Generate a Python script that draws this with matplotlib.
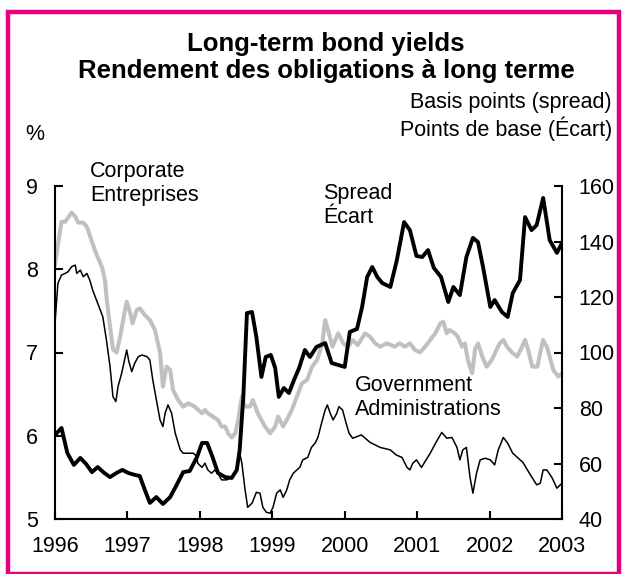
import matplotlib
matplotlib.use('Agg')
import matplotlib.pyplot as plt
from matplotlib.patches import Rectangle

plt.rcParams['font.family'] = ['Liberation Sans', 'DejaVu Sans']

# ---------------- data ----------------
corp_years = [
    1996.00, 1996.04, 1996.09, 1996.14, 1996.18, 1996.23, 1996.28, 1996.32, 1996.39, 1996.44,
    1996.48, 1996.55, 1996.65, 1996.69, 1996.71, 1996.76, 1996.80, 1996.85, 1996.90, 1996.94,
    1996.99, 1997.04, 1997.07, 1997.13, 1997.17, 1997.24, 1997.31, 1997.38, 1997.45, 1997.49,
    1997.54, 1997.59, 1997.63, 1997.70, 1997.77, 1997.84, 1997.93, 1998.03, 1998.07, 1998.11,
    1998.18, 1998.25, 1998.30, 1998.35, 1998.39, 1998.44, 1998.49, 1998.53, 1998.58, 1998.62,
    1998.69, 1998.73, 1998.80, 1998.90, 1998.97, 1999.04, 1999.08, 1999.15, 1999.20, 1999.27,
    1999.34, 1999.41, 1999.48, 1999.55, 1999.62, 1999.69, 1999.73, 1999.77, 1999.83, 1999.87,
    1999.91, 1999.98, 2000.05, 2000.11, 2000.18, 2000.28, 2000.35, 2000.42, 2000.49, 2000.58,
    2000.69, 2000.76, 2000.83, 2000.90, 2000.97, 2001.04, 2001.11, 2001.18, 2001.25, 2001.32,
    2001.36, 2001.41, 2001.45, 2001.52, 2001.56, 2001.62, 2001.66, 2001.70, 2001.76, 2001.80,
    2001.84, 2001.90, 2001.96, 2002.03, 2002.10, 2002.14, 2002.19, 2002.24, 2002.31, 2002.38,
    2002.45, 2002.49, 2002.53, 2002.59, 2002.66, 2002.70, 2002.74, 2002.79, 2002.83, 2002.88,
    2002.95, 2003.00,
]
corp_vals = [
    8.05, 8.29, 8.57, 8.57, 8.62, 8.68, 8.63, 8.56, 8.56, 8.51,
    8.41, 8.23, 8.02, 7.87, 7.67, 7.31, 7.04, 7.00, 7.19, 7.39,
    7.61, 7.47, 7.35, 7.51, 7.53, 7.45, 7.39, 7.27, 7.00, 6.59,
    6.83, 6.79, 6.55, 6.43, 6.35, 6.39, 6.35, 6.27, 6.31, 6.27,
    6.23, 6.19, 6.11, 6.11, 6.03, 5.98, 6.03, 6.19, 6.47, 6.35,
    6.35, 6.43, 6.27, 6.11, 6.03, 6.11, 6.23, 6.11, 6.19, 6.31,
    6.47, 6.63, 6.67, 6.83, 6.91, 7.11, 7.39, 7.27, 7.07, 7.15,
    7.23, 7.11, 7.07, 7.15, 7.09, 7.23, 7.19, 7.11, 7.07, 7.11,
    7.07, 7.11, 7.07, 7.11, 7.03, 7.00, 7.07, 7.15, 7.23, 7.35,
    7.37, 7.23, 7.27, 7.23, 7.19, 7.07, 7.11, 6.91, 6.75, 7.04,
    7.11, 6.95, 6.83, 6.91, 7.04, 7.11, 7.15, 7.07, 7.00, 6.95,
    7.07, 7.15, 7.04, 6.83, 6.83, 7.00, 7.15, 7.07, 6.95, 6.79,
    6.71, 6.75,
]

gov_years = [
    1996.00, 1996.04, 1996.09, 1996.14, 1996.18, 1996.23, 1996.28, 1996.30, 1996.35, 1996.39,
    1996.44, 1996.48, 1996.52, 1996.59, 1996.66, 1996.71, 1996.76, 1996.80, 1996.84, 1996.87,
    1996.92, 1996.97, 1996.99, 1997.02, 1997.06, 1997.10, 1997.15, 1997.20, 1997.27, 1997.31,
    1997.35, 1997.40, 1997.45, 1997.49, 1997.52, 1997.56, 1997.61, 1997.66, 1997.73, 1997.77,
    1997.91, 1997.96, 1997.97, 1998.03, 1998.07, 1998.11, 1998.16, 1998.21, 1998.25, 1998.30,
    1998.37, 1998.44, 1998.51, 1998.55, 1998.58, 1998.62, 1998.66, 1998.72, 1998.78, 1998.83,
    1998.87, 1998.92, 1998.97, 1999.01, 1999.06, 1999.11, 1999.15, 1999.20, 1999.24, 1999.29,
    1999.34, 1999.38, 1999.42, 1999.49, 1999.54, 1999.59, 1999.63, 1999.68, 1999.73, 1999.76,
    1999.80, 1999.84, 1999.89, 1999.92, 1999.97, 2000.02, 2000.06, 2000.11, 2000.23, 2000.35,
    2000.49, 2000.63, 2000.71, 2000.79, 2000.86, 2000.90, 2000.94, 2000.99, 2001.06, 2001.18,
    2001.26, 2001.34, 2001.41, 2001.48, 2001.55, 2001.59, 2001.63, 2001.68, 2001.73, 2001.77,
    2001.82, 2001.87, 2001.94, 2002.01, 2002.07, 2002.12, 2002.19, 2002.25, 2002.32, 2002.46,
    2002.55, 2002.65, 2002.70, 2002.74, 2002.79, 2002.86, 2002.93, 2003.00,
]
gov_vals = [
    7.35, 7.83, 7.93, 7.95, 7.97, 8.03, 8.05, 7.95, 7.99, 7.91,
    7.95, 7.87, 7.75, 7.59, 7.43, 7.15, 6.83, 6.47, 6.41, 6.59,
    6.75, 6.95, 7.03, 6.89, 6.77, 6.87, 6.95, 6.97, 6.95, 6.91,
    6.67, 6.43, 6.19, 6.11, 6.27, 6.37, 6.27, 6.03, 5.83, 5.79,
    5.79, 5.75, 5.67, 5.62, 5.67, 5.59, 5.55, 5.59, 5.55, 5.47,
    5.47, 5.50, 5.59, 5.79, 5.67, 5.38, 5.14, 5.19, 5.32, 5.31,
    5.14, 5.08, 5.07, 5.14, 5.31, 5.35, 5.26, 5.35, 5.47, 5.55,
    5.59, 5.62, 5.71, 5.74, 5.86, 5.91, 5.98, 6.15, 6.31, 6.37,
    6.27, 6.19, 6.27, 6.35, 6.31, 6.15, 6.03, 5.97, 6.01, 5.92,
    5.86, 5.83, 5.77, 5.74, 5.62, 5.59, 5.67, 5.71, 5.62, 5.79,
    5.92, 6.04, 5.97, 5.98, 5.86, 5.71, 5.83, 5.86, 5.50, 5.31,
    5.55, 5.71, 5.73, 5.71, 5.65, 5.83, 5.98, 5.91, 5.79, 5.68,
    5.55, 5.41, 5.43, 5.59, 5.59, 5.50, 5.37, 5.43,
]

spread_years = [
    1996.00, 1996.09, 1996.17, 1996.26, 1996.35, 1996.43, 1996.51, 1996.59, 1996.68, 1996.76,
    1996.85, 1996.93, 1997.01, 1997.10, 1997.17, 1997.24, 1997.31, 1997.40, 1997.49, 1997.59,
    1997.68, 1997.77, 1997.86, 1997.96, 1998.03, 1998.10, 1998.17, 1998.25, 1998.35, 1998.44,
    1998.51, 1998.55, 1998.60, 1998.65, 1998.72, 1998.78, 1998.85, 1998.91, 1998.98, 1999.04,
    1999.09, 1999.16, 1999.23, 1999.30, 1999.37, 1999.45, 1999.52, 1999.61, 1999.73, 1999.82,
    1999.91, 2000.00, 2000.07, 2000.17, 2000.24, 2000.31, 2000.38, 2000.45, 2000.52, 2000.63,
    2000.72, 2000.82, 2000.90, 2000.99, 2001.07, 2001.15, 2001.23, 2001.33, 2001.43, 2001.50,
    2001.59, 2001.68, 2001.77, 2001.84, 2001.91, 2002.01, 2002.07, 2002.17, 2002.25, 2002.32,
    2002.42, 2002.49, 2002.58, 2002.65, 2002.74, 2002.83, 2002.93, 2003.00,
]
spread_vals = [
    70.3, 72.8, 63.8, 59.5, 62.0, 59.8, 56.9, 58.7, 56.6, 55.1,
    56.6, 57.7, 56.6, 55.9, 55.5, 50.5, 45.8, 47.9, 45.4, 47.9,
    52.3, 56.9, 57.3, 62.3, 67.4, 67.4, 62.7, 56.6, 55.1, 54.8,
    57.7, 64.9, 84.0, 114.2, 114.6, 105.6, 91.2, 98.4, 99.1, 94.4,
    84.0, 87.2, 85.4, 90.1, 94.4, 100.9, 98.4, 102.0, 103.4, 96.2,
    95.5, 94.8, 107.4, 108.5, 116.4, 127.2, 130.8, 127.2, 125.0, 123.6,
    133.3, 147.0, 144.1, 134.8, 134.4, 136.9, 130.5, 127.2, 118.2, 123.6,
    120.7, 134.4, 141.3, 139.8, 130.8, 116.4, 118.9, 114.6, 112.8, 121.4,
    126.1, 148.8, 144.1, 145.9, 155.7, 140.5, 135.9, 139.5,
]

x_ticks = [1996, 1997, 1998, 1999, 2000, 2001, 2002, 2003]
left_ticks = [5, 6, 7, 8, 9]
right_ticks = [40, 60, 80, 100, 120, 140, 160]

title_text = "Long-term bond yields\nRendement des obligations à long terme"
left_unit = "%"
right_unit = "Basis points (spread)\nPoints de base (Écart)"
corp_label = "Corporate\nEntreprises"
spread_label = "Spread\nÉcart"
gov_label = "Government\nAdministrations"

# ---------------- figure ----------------
W, H = 622, 574
fig = plt.figure(figsize=(W / 100, H / 100), dpi=100)
fig.patch.set_facecolor('white')

ax = fig.add_axes([55 / W, 1 - 519 / H, (562 - 55) / W, (519 - 186) / H])
ax2 = ax.twinx()

ax.plot(corp_years, corp_vals, color='#C0C0C0', lw=2.9, solid_joinstyle='round', zorder=2)
ax.plot(gov_years, gov_vals, color='black', lw=1.1, zorder=3)
ax2.plot(spread_years, spread_vals, color='black', lw=2.8, solid_joinstyle='round', zorder=4)

ax.set_xlim(1996, 2003)
ax.set_ylim(5, 9)
ax2.set_ylim(40, 160)
ax.set_xticks(x_ticks)
ax.set_yticks(left_ticks)
ax2.set_yticks(right_ticks)

fs = 15.5
for a in (ax, ax2):
    a.spines['top'].set_visible(False)
    for s in a.spines.values():
        s.set_linewidth(1.5)
ax.spines['right'].set_visible(False)
ax2.spines['left'].set_visible(False)
ax2.spines['bottom'].set_visible(False)

ax.tick_params(axis='both', direction='in', length=6, width=1.5, labelsize=fs)
ax.tick_params(axis='y', pad=12)
ax.tick_params(axis='x', pad=12)
ax2.tick_params(axis='y', direction='in', length=6, width=1.5, labelsize=fs, pad=12)

# series labels
ax.text(1996.48, 9.03, corp_label, fontsize=fs, ha='left', va='center', clip_on=False)
ax.text(1999.70, 8.77, spread_label, fontsize=fs, ha='left', va='center')
ax.text(2000.14, 6.46, gov_label, fontsize=fs, ha='left', va='center')

# titles / units
fig.text(326 / W, 1 - 57.5 / H, title_text, fontsize=18.5, fontweight='bold',
         ha='center', va='center', multialignment='center', linespacing=1.2)
fig.text(35 / W, 1 - 135 / H, left_unit, fontsize=fs, ha='center', va='center')
fig.text(612 / W, 1 - 116.5 / H, right_unit, fontsize=fs, ha='right', va='center',
         multialignment='right', linespacing=1.2)

# magenta frame
fig.patches.append(Rectangle((8 / W, 1 - 574 / H), (619 - 8) / W, (574 - 12) / H,
                             transform=fig.transFigure, fill=False,
                             edgecolor='#E6007E', lw=3.2, zorder=10))

fig.savefig('out.png', dpi=100)
